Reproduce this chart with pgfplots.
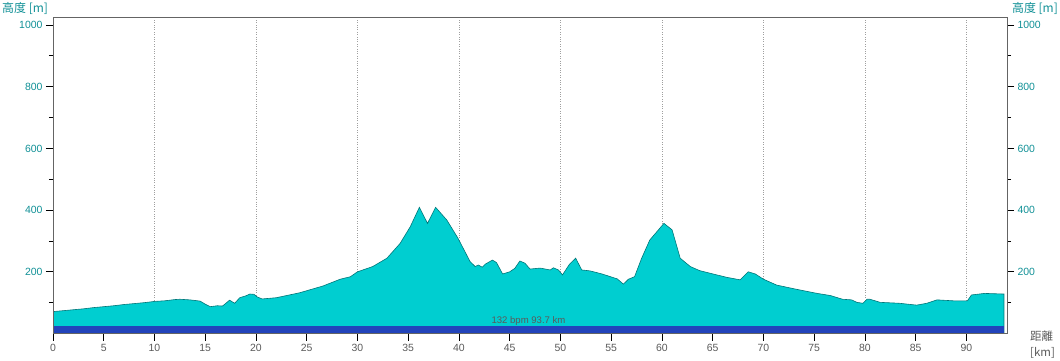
\documentclass[border=0pt]{standalone}
\usepackage{pgfplots}
\pgfplotsset{compat=1.18}
\usepackage{fontspec}
\setmainfont{Liberation Sans}
\newfontfamily\jp{Noto Sans CJK JP}
\definecolor{fillc}{RGB}{0,206,208}
\definecolor{linec}{RGB}{0,118,120}
\definecolor{barc}{RGB}{34,68,187}
\definecolor{tealt}{RGB}{16,144,150}
\definecolor{grayt}{RGB}{90,90,90}
\definecolor{axc}{RGB}{100,100,100}
\pgfplotstableread{
km ele
0 71
1 74
2 77
3 80
4 84
5 87
6 90
7 94
8 97
9 100
10 104
11 106
12 110
12.5 111
13.5 109
14.5 105
15.0 95
15.5 87
16.2 90
16.7 89
17.4 108
17.9 98
18.4 116
19.0 122
19.4 128
19.8 127
20.1 119
20.6 112
22 116
24.3 132
26.6 154
28.3 176
29.3 184
30 200
31.5 217
32.9 244
34.2 292
35.2 346
36.1 409
36.9 357
37.7 409
38.8 368
39.9 309
41.1 233
41.6 217
41.9 222
42.3 215
42.6 225
43.3 238
43.7 230
44.3 193
45 200
45.5 211
46 235
46.5 228
47 209
48 212
49 206
49.3 213
49.8 206
50.2 190
50.9 225
51.5 244
52.1 206
52.9 203
54.1 193
55.6 177
56.2 160
56.7 176
57.3 184
58 244
58.8 303
59.5 330
60.2 357
61 336
61.8 244
62.8 217
63.7 204
65.4 190
66.4 182
67.7 174
68.5 200
69.2 193
70 176
71.3 157
73.3 143
75.3 130
76.6 123
77.2 117
77.8 111
78.7 109
79.2 101
79.8 98
80.2 111
80.5 111
81.5 101
83.4 98
85.1 92
86.1 98
87.1 109
88.7 106
90.1 106
90.5 125
91.8 130
93.6 128
93.7 128
}\profile
\begin{document}
\begin{tikzpicture}[x=1bp,y=1bp]
\pgfplotsset{
  common/.style={
    at={(53bp,26.5bp)}, anchor=south west,
    scale only axis, width=954bp, height=316.5bp,
    xmin=0, xmax=94, ymin=0, ymax=1026,
    xtick={0,5,...,90},
    ytick={200,400,...,1000}, minor ytick={100,300,...,900},
    tick align=outside,
    major tick length=7bp, minor tick length=4bp,
    tick style={black, line width=0.8bp},
    ticklabel style={font=\fontsize{10.5}{12}\selectfont},
    xticklabel style={text=grayt},
    yticklabel style={text=tealt},
    /pgf/number format/assume math mode=true,
    /pgf/number format/1000 sep={},
  }
}
\begin{axis}[common,
  axis lines=box,
  axis line style={draw=axc, line width=0.8bp},
  xtick pos=bottom, ytick pos=left,
  extra x ticks={10,20,...,90}, extra x tick labels={},
  extra x tick style={grid=major, major tick length=0pt},
  major grid style={dotted, gray!75, line width=0.6bp},
]
\addplot[fill=fillc, draw=linec, line width=0.6bp] table[x=km,y=ele] {\profile} \closedcycle;
\addplot[fill=barc, draw=none] coordinates {(0,23) (93.7,23)} \closedcycle;
\node[font=\fontsize{9.6}{10}\selectfont, text=grayt, anchor=south, inner sep=0.6bp] at (axis cs:46.85,23) {132 bpm 93.7 km};
\end{axis}
\begin{axis}[common,
  axis lines=box,
  axis line style={draw=axc, line width=0.8bp},
  xtick pos=bottom, ytick pos=both,
  yticklabel pos=right,
  xticklabels={},
]
\end{axis}
\node[anchor=north west, text=tealt, font=\jp\fontsize{12}{13}\selectfont, inner sep=0] at (2,358) {高度 [m]};
\node[anchor=north east, text=tealt, font=\jp\fontsize{12}{13}\selectfont, inner sep=0] at (1058,358) {高度 [m]};
\node[anchor=north west, text=grayt, font=\jp\fontsize{11.5}{15.5}\selectfont, inner sep=0, align=left] at (1030,29) {距離\\{[km]}};
\pgfresetboundingbox
\path (0,0) rectangle (1060,360);
\end{tikzpicture}
\end{document}
